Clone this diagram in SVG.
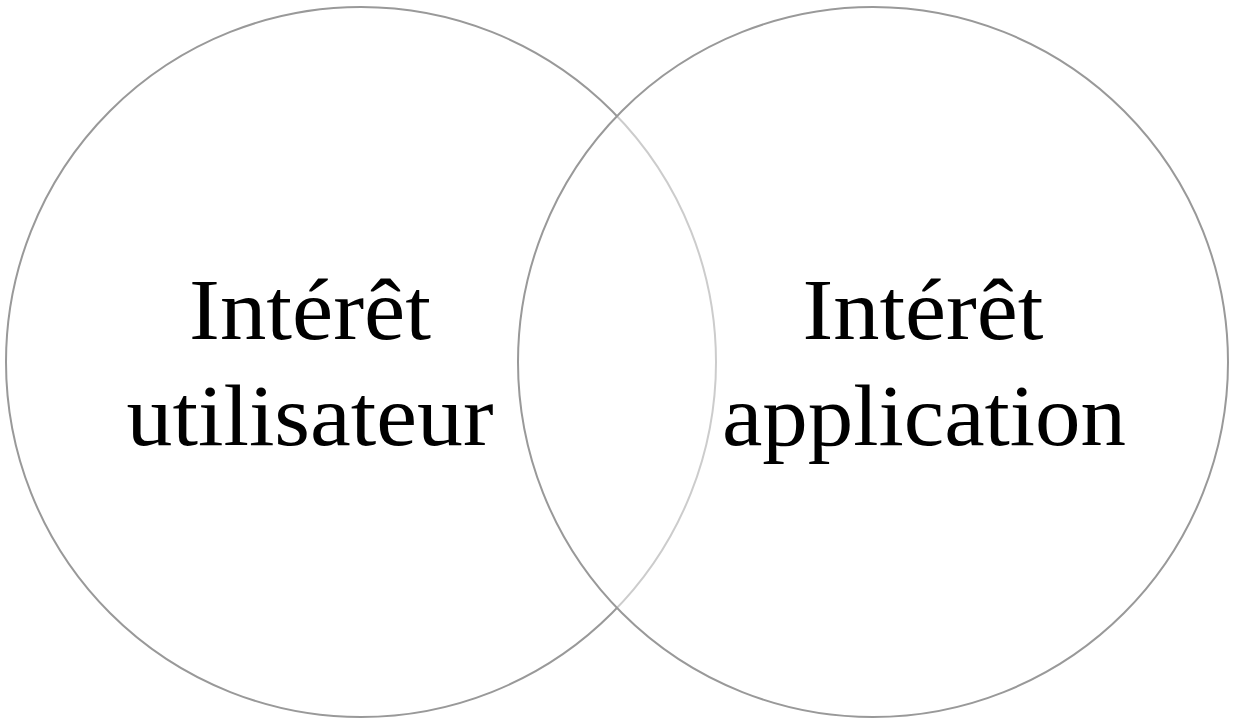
<svg xmlns="http://www.w3.org/2000/svg" width="1236" height="724" viewBox="0 0 1236 724">
<style>
.c{stroke:#999999;stroke-width:2}
.t{font-family:"Liberation Serif","DejaVu Serif",serif;font-size:86px;fill:#000;text-anchor:middle}
</style>
<rect width="1236" height="724" fill="#fff"/>
<g id="left">
<circle class="c" cx="361" cy="362" r="355" fill="#fff"/>
<text class="t" x="310" y="339" textLength="242" lengthAdjust="spacingAndGlyphs">Intérêt</text>
<text class="t" x="310" y="445" textLength="367" lengthAdjust="spacingAndGlyphs">utilisateur</text>
</g>
<g id="right">
<circle class="c" cx="873" cy="362" r="355" fill="#fff" fill-opacity="0.5"/>
<text class="t" x="923" y="339" textLength="241" lengthAdjust="spacingAndGlyphs">Intérêt</text>
<text class="t" x="924" y="445" textLength="404" lengthAdjust="spacingAndGlyphs">application</text>
</g>
<g id="connectors"></g>
</svg>
